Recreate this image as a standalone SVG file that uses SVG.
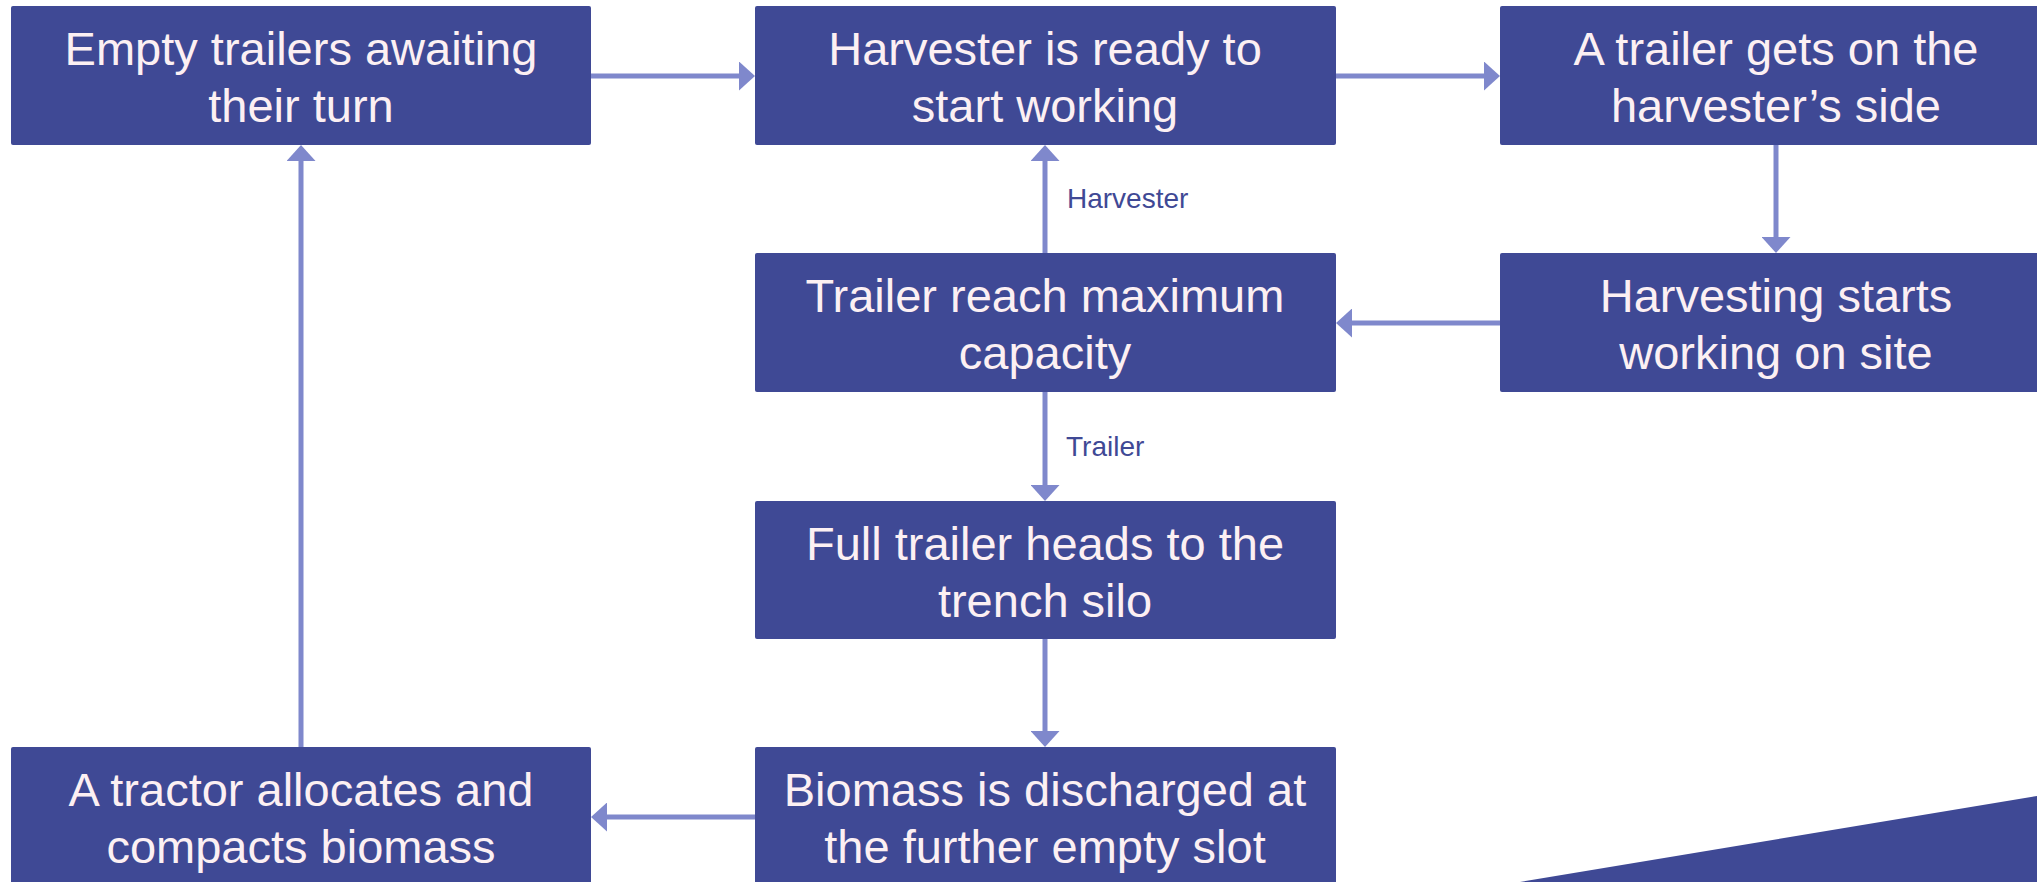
<svg xmlns="http://www.w3.org/2000/svg" width="2037" height="882" viewBox="0 0 2037 882">
<style>
.box{fill:#3F4995;}
.t{font-family:"Liberation Sans",Arial,sans-serif;font-size:47px;fill:#FCF0F3;text-anchor:middle;}
.lbl{font-family:"Liberation Sans",Arial,sans-serif;font-size:28px;fill:#3F4995;}
.c{stroke:#7F88CC;stroke-width:5;fill:none;marker-end:url(#ah);}
</style>
<defs>
<marker id="ah" markerUnits="userSpaceOnUse" viewBox="0 0 16 29" markerWidth="16" markerHeight="29" refX="2" refY="14.5" orient="auto">
<path d="M0,0 L16,14.5 L0,29 Z" fill="#7F88CC"/>
</marker>
</defs>
<rect width="2037" height="882" fill="#FFFFFF"/>
<polygon points="1520,882 2037,796 2037,882" fill="#3F4995"/>
<g id="connectors">
<line class="c" x1="591" y1="76" x2="741" y2="76"/>
<line class="c" x1="1336" y1="76" x2="1486" y2="76"/>
<line class="c" x1="1776" y1="145" x2="1776" y2="239"/>
<line class="c" x1="1500" y1="323" x2="1350" y2="323"/>
<line class="c" x1="1045" y1="253" x2="1045" y2="159"/>
<line class="c" x1="1045" y1="392" x2="1045" y2="487"/>
<line class="c" x1="1045" y1="639" x2="1045" y2="733"/>
<line class="c" x1="755" y1="817" x2="605" y2="817"/>
<line class="c" x1="301" y1="747" x2="301" y2="159"/>
<text class="lbl" x="1067" y="208">Harvester</text>
<text class="lbl" x="1066" y="456">Trailer</text>
</g>
<g id="n1"><rect class="box" x="11" y="6" width="580" height="139" rx="2"/>
<text class="t" x="301" y="65">Empty trailers awaiting</text><text class="t" x="301" y="122">their turn</text></g>
<g id="n2"><rect class="box" x="755" y="6" width="581" height="139" rx="2"/>
<text class="t" x="1045" y="65">Harvester is ready to</text><text class="t" x="1045" y="122">start working</text></g>
<g id="n3"><rect class="box" x="1500" y="6" width="581" height="139" rx="2"/>
<text class="t" x="1776" y="65">A trailer gets on the</text><text class="t" x="1776" y="122">harvester’s side</text></g>
<g id="n4"><rect class="box" x="1500" y="253" width="581" height="139" rx="2"/>
<text class="t" x="1776" y="312">Harvesting starts</text><text class="t" x="1776" y="369">working on site</text></g>
<g id="n5"><rect class="box" x="755" y="253" width="581" height="139" rx="2"/>
<text class="t" x="1045" y="312">Trailer reach maximum</text><text class="t" x="1045" y="369">capacity</text></g>
<g id="n6"><rect class="box" x="755" y="501" width="581" height="138" rx="2"/>
<text class="t" x="1045" y="560">Full trailer heads to the</text><text class="t" x="1045" y="617">trench silo</text></g>
<g id="n7"><rect class="box" x="755" y="747" width="581" height="139" rx="2"/>
<text class="t" x="1045" y="806">Biomass is discharged at</text><text class="t" x="1045" y="863">the further empty slot</text></g>
<g id="n8"><rect class="box" x="11" y="747" width="580" height="139" rx="2"/>
<text class="t" x="301" y="806">A tractor allocates and</text><text class="t" x="301" y="863">compacts biomass</text></g>
</svg>
